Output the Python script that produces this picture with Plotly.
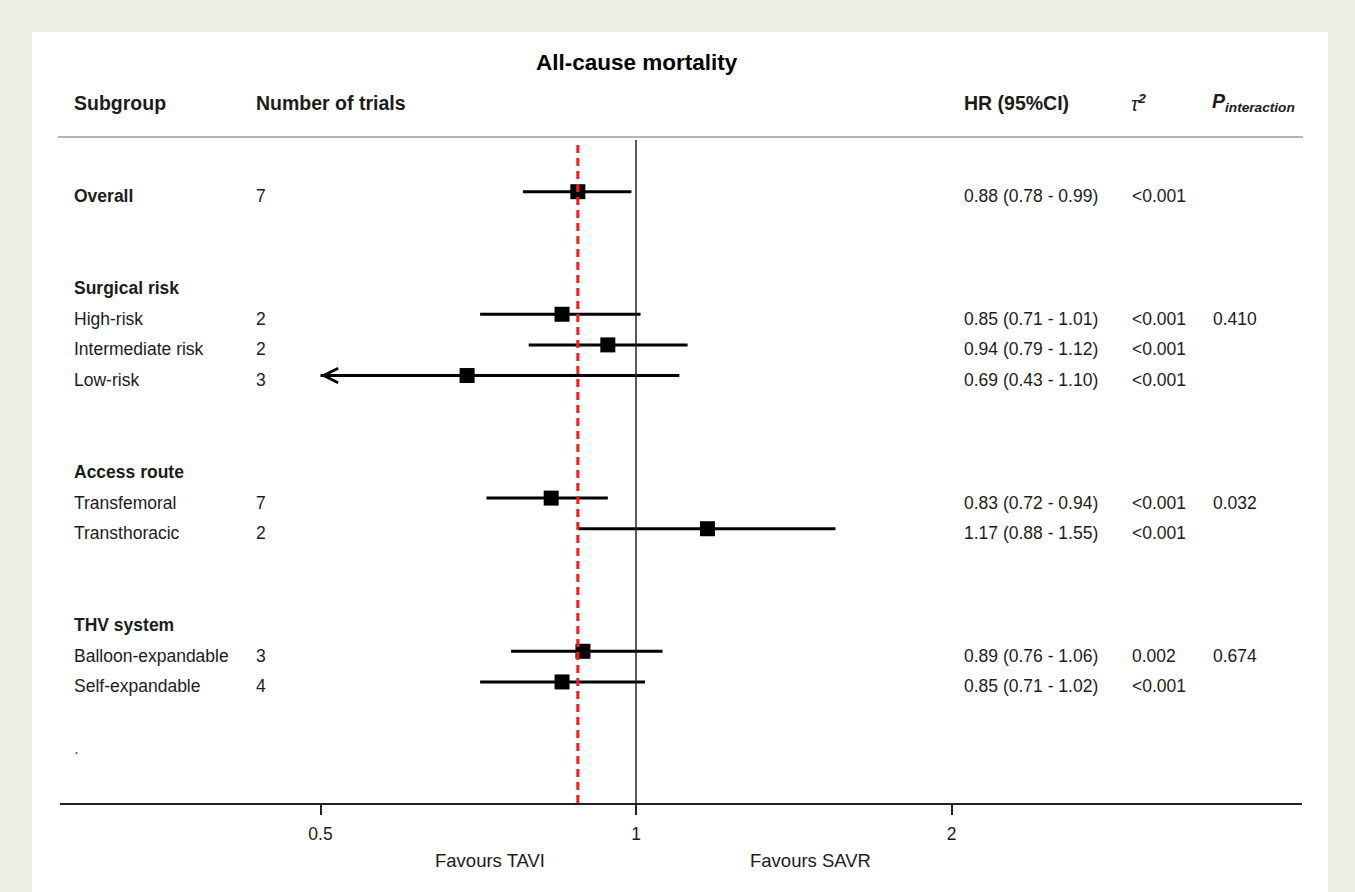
import math
import plotly.graph_objects as go

# ---------------- data ----------------
title_text = "All-cause mortality"
labels = ["Overall", "Surgical risk", "High-risk", "Intermediate risk", "Low-risk",
          "Access route", "Transfemoral", "Transthoracic",
          "THV system", "Balloon-expandable", "Self-expandable", "."]
is_bold = [True, True, False, False, False, True, False, False, True, False, False, False]
rows = [0, 3, 4, 5, 6, 9, 10, 11, 14, 15, 16, 18]
n_trials = ["7", "", "2", "2", "3", "", "7", "2", "", "3", "4", ""]
hr = [0.88, None, 0.85, 0.94, 0.69, None, 0.83, 1.17, None, 0.89, 0.85, None]
ci_low = [0.78, None, 0.71, 0.79, 0.43, None, 0.72, 0.88, None, 0.76, 0.71, None]
ci_high = [0.99, None, 1.01, 1.12, 1.10, None, 0.94, 1.55, None, 1.06, 1.02, None]
tau2 = ["<0.001", "", "<0.001", "<0.001", "<0.001", "", "<0.001", "<0.001", "", "0.002", "<0.001", ""]
p_interaction = ["", "", "0.410", "", "", "", "0.032", "", "", "0.674", "", ""]
tick_vals = [0.5, 1, 2]
tick_text = ["0.5", "1", "2"]
clip_low = 0.5
summary_hr = 0.88
x_label_left = "Favours TAVI"
x_label_right = "Favours SAVR"

# ---------------- layout constants (pixels) ----------------
W, H = 1355, 892
PL, PR, PT, PB = 60, 1302, 137, 803          # plot area
ROW0_PX, ROW_PX = 191.7, 30.64               # row spacing
X_ONE_PX, PX_PER_DOUBLING = 636, 315.5       # log scale
FONT = "Liberation Sans, Arial, Helvetica, sans-serif"
TXT = "#1c1c1c"

def px_x(px):
    return (px - PL) / (PR - PL)

def px_y(px):
    return (PB - px) / (PB - PT)

x_lo = 2 ** ((PL - X_ONE_PX) / PX_PER_DOUBLING)
x_hi = 2 ** ((PR - X_ONE_PX) / PX_PER_DOUBLING)
y_bottom = (PB - ROW0_PX) / ROW_PX
y_top = (PT - ROW0_PX) / ROW_PX

fig = go.Figure()

# CI lines
cx, cy = [], []
for r, h, lo_, hi_ in zip(rows, hr, ci_low, ci_high):
    if h is None:
        continue
    cx += [max(lo_, clip_low), hi_, None]
    cy += [r, r, None]
fig.add_trace(go.Scatter(x=cx, y=cy, mode="lines",
                         line=dict(color="black", width=3), hoverinfo="skip",
                         showlegend=False))

# point estimates
px_, py_ = [], []
for r, h in zip(rows, hr):
    if h is not None:
        px_.append(h)
        py_.append(r)
fig.add_trace(go.Scatter(x=px_, y=py_, mode="markers",
                         marker=dict(symbol="square", size=15, color="black",
                                     line=dict(width=0)),
                         showlegend=False))

annotations = []

# arrows for clipped CIs
for r, h, lo_ in zip(rows, hr, ci_low):
    if h is not None and lo_ < clip_low:
        annotations.append(dict(
            x=math.log10(clip_low), y=r, xref="x", yref="y",
            ax=math.log10(clip_low) + 0.03, ay=r, axref="x", ayref="y",
            text="", showarrow=True, arrowhead=5, arrowsize=0.95,
            arrowwidth=3, arrowcolor="black", standoff=0, startstandoff=0))

def text_ann(x_px, y, s, size, bold=False, yref="y", xanchor="left", color=TXT, yshift=0):
    annotations.append(dict(
        x=px_x(x_px), y=y, xref="paper", yref=yref, xanchor=xanchor,
        yanchor="middle", text=f"<b>{s}</b>" if bold else s, showarrow=False,
        font=dict(family=FONT, size=size, color=color), yshift=yshift))

# row text
ROW_SHIFT = -4.5
for lab, b, r, n, h, lo_, hi_, t, p in zip(labels, is_bold, rows, n_trials, hr,
                                          ci_low, ci_high, tau2, p_interaction):
    col = "#666" if lab == "." else TXT
    text_ann(72, r, lab, 17.5, bold=b, color=col, yshift=ROW_SHIFT)
    if n:
        text_ann(254, r, n, 17.5, yshift=ROW_SHIFT)
    if h is not None:
        text_ann(962, r, f"{h:.2f} ({lo_:.2f} - {hi_:.2f})", 17.5, yshift=ROW_SHIFT)
    if t:
        text_ann(1130, r, t, 17.5, yshift=ROW_SHIFT)
    if p:
        text_ann(1211, r, p, 17.5, yshift=ROW_SHIFT)

# header
HEAD_Y = px_y(103)
text_ann(72, HEAD_Y, "Subgroup", 19.5, bold=True, yref="paper")
text_ann(254, HEAD_Y, "Number of trials", 19.5, bold=True, yref="paper")
text_ann(962, HEAD_Y, "HR (95%CI)", 19.5, bold=True, yref="paper")
text_ann(1129, HEAD_Y, "<i>τ</i><sup><b><i>2</i></b></sup>", 19.5, yref="paper")
text_ann(1210, HEAD_Y, "<b><i>P</i></b><sub><b><i>interaction</i></b></sub>", 19.5, yref="paper")
text_ann(637, px_y(63), title_text, 22.5, bold=True, yref="paper", xanchor="center", color="black")

# x labels
text_ann(490, px_y(860), x_label_left, 18.5, yref="paper", xanchor="center")
text_ann(810, px_y(860), x_label_right, 18.5, yref="paper", xanchor="center")

shapes = [
    # white panel
    dict(type="rect", xref="paper", yref="paper", x0=px_x(32), x1=px_x(1328),
         y0=px_y(32), y1=px_y(H + 5), fillcolor="white", line=dict(width=0), layer="below"),
    # header rule
    dict(type="line", xref="paper", yref="paper", x0=px_x(58), x1=px_x(1303),
         y0=px_y(137), y1=px_y(137), line=dict(color="#9c9c9c", width=1.5)),
    # null line
    dict(type="line", xref="x", yref="paper", x0=1, x1=1, y0=0, y1=px_y(140),
         line=dict(color="#222", width=1.5)),
    # summary line
    dict(type="line", xref="x", yref="paper", x0=summary_hr, x1=summary_hr, y0=0, y1=px_y(140),
         line=dict(color="#ff1a1a", width=3, dash="8px,5px")),
]

fig.update_layout(
    width=W, height=H,
    margin=dict(l=PL, r=W - PR, t=PT, b=H - PB, pad=0),
    paper_bgcolor="#efeee5", plot_bgcolor="rgba(0,0,0,0)",
    showlegend=False,
    annotations=annotations, shapes=shapes,
    xaxis=dict(type="log", range=[math.log10(x_lo), math.log10(x_hi)],
               tickvals=tick_vals, ticktext=tick_text, ticks="outside", ticklen=10,
               tickwidth=1.5, tickcolor="#222", showline=True, linecolor="#222",
               linewidth=1.5, showgrid=False, zeroline=False,
               tickfont=dict(family=FONT, size=17.5, color=TXT),
               ticklabelstandoff=4, fixedrange=True),
    yaxis=dict(range=[y_bottom, y_top], visible=False, showgrid=False,
               zeroline=False, fixedrange=True),
)

fig.write_html("out.html", config={"displayModeBar": False},
               post_script="document.body.style.margin='0';document.body.style.overflow='hidden';")
